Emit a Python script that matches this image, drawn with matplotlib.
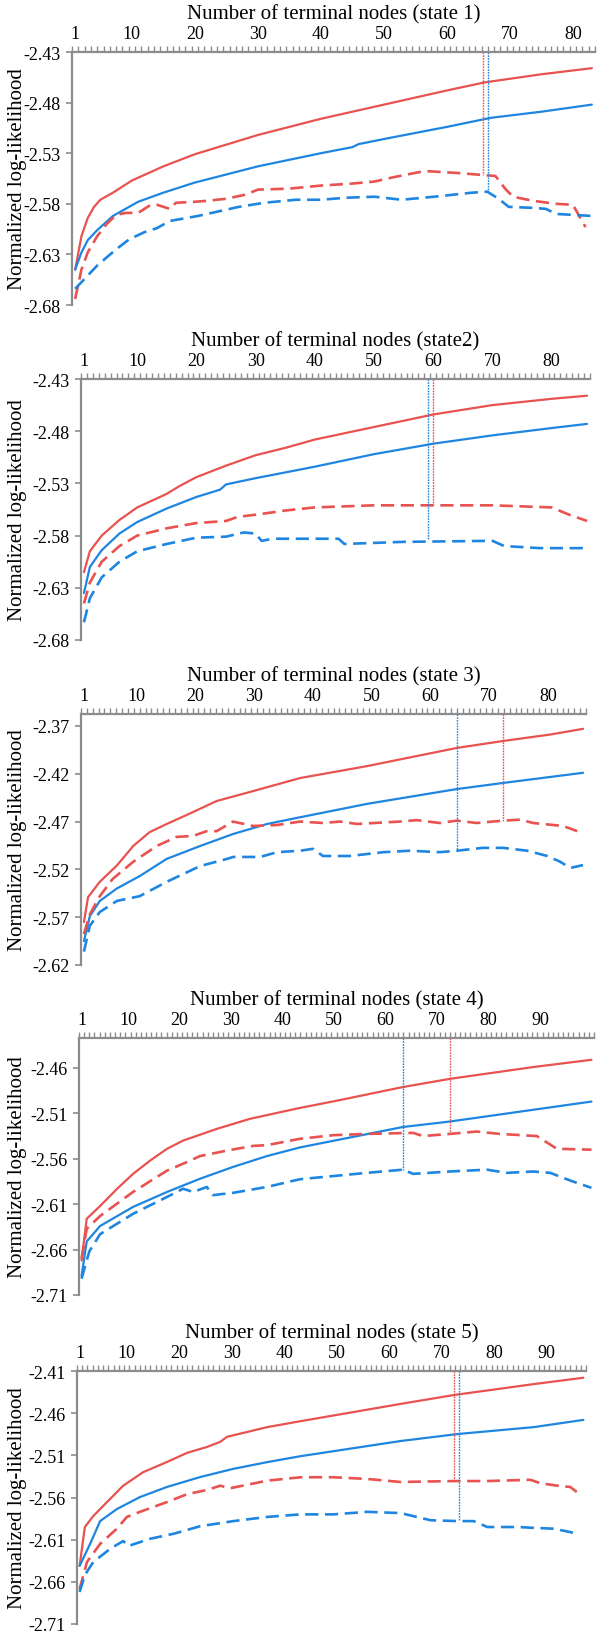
import matplotlib
matplotlib.use("Agg")
import matplotlib.pyplot as plt
from matplotlib.ticker import FixedLocator, FormatStrFormatter
import numpy as np

plt.rcParams['font.family'] = ['Liberation Serif', 'DejaVu Serif']
plt.rcParams['axes.unicode_minus'] = False

RED = '#E8524F'
BLUE = '#1E86E0'
GREY = '#8C8C8C'

# ---- state 1 ----
p1_n = 83
p1_red_x = [1, 2, 3, 4, 5, 7, 10, 15, 20, 30, 40, 50, 60, 66, 75, 83]
p1_red_y = [-2.645, -2.612, -2.594, -2.583, -2.576, -2.569, -2.557, -2.543, -2.531, -2.512,
            -2.496, -2.482, -2.468, -2.460, -2.452, -2.446]
p1_blue_x = [1, 2, 3, 4.5, 7, 11, 15, 20, 30, 40, 45, 46, 50, 60, 67, 75, 83]
p1_blue_y = [-2.645, -2.628, -2.616, -2.606, -2.592, -2.578, -2.569, -2.559, -2.543, -2.530,
             -2.524, -2.521, -2.516, -2.504, -2.495, -2.489, -2.482]
p1_red_d_x = [1, 2, 3, 4.5, 6, 7.5, 9, 11, 12, 13, 14, 15, 16, 17, 20, 22, 25, 28, 30, 35, 40,
              45, 48.5, 51.7, 56.5, 61.8, 65.6, 67.7, 69.3, 70.5, 73.6, 77.3, 80, 81, 82]
p1_red_d_y = [-2.674, -2.645, -2.628, -2.612, -2.600, -2.591, -2.589, -2.589, -2.585, -2.581,
              -2.581, -2.583, -2.585, -2.579, -2.578, -2.577, -2.575, -2.571, -2.566, -2.565,
              -2.562, -2.560, -2.558, -2.5535, -2.5476, -2.5496, -2.5515, -2.5525, -2.5655,
              -2.573, -2.577, -2.580, -2.581, -2.592, -2.603]
p1_blue_d_x = [1, 4.5, 7.5, 9.6, 12, 14, 16, 20.5, 27, 31, 36, 40, 44, 48.5, 52.8, 58, 64, 66.4,
               68.2, 69.8, 73.6, 75.7, 77.3, 83]
p1_blue_d_y = [-2.664, -2.641, -2.625, -2.615, -2.608, -2.604, -2.597, -2.592, -2.583, -2.579,
               -2.576, -2.576, -2.574, -2.573, -2.576, -2.573, -2.569, -2.568, -2.575, -2.583,
               -2.584, -2.585, -2.590, -2.592]
p1_vline_red = (65.8, -2.5515)
p1_vline_blue = (66.5, -2.568)

# ---- state 2 ----
p2_n = 86
p2_red_x = [1, 2, 4, 7, 10, 15, 17, 20, 25, 30, 35, 40, 50, 60, 70, 80, 86]
p2_red_y = [-2.615, -2.595, -2.580, -2.565, -2.553, -2.540, -2.533, -2.524, -2.513, -2.503,
            -2.496, -2.488, -2.476, -2.464, -2.455, -2.449, -2.446]
p2_blue_x = [1, 2, 4, 7, 10, 15, 20, 24, 25, 30, 40, 50, 60, 70, 80, 86]
p2_blue_y = [-2.635, -2.610, -2.594, -2.578, -2.567, -2.554, -2.543, -2.536, -2.531, -2.525,
             -2.514, -2.502, -2.492, -2.484, -2.477, -2.473]
p2_red_d_x = [1, 2, 4, 7, 10, 15, 20, 25, 27, 30, 35, 40, 50, 60, 70, 80, 83, 86]
p2_red_d_y = [-2.645, -2.625, -2.605, -2.590, -2.580, -2.573, -2.568, -2.566, -2.562, -2.560,
              -2.556, -2.553, -2.551, -2.551, -2.551, -2.553, -2.560, -2.566]
p2_blue_d_x = [1, 2, 4, 7, 10, 15, 20, 25, 28, 30, 31, 33, 40, 44, 45, 55, 70, 72, 78, 86]
p2_blue_d_y = [-2.663, -2.640, -2.620, -2.605, -2.595, -2.588, -2.582, -2.581, -2.577, -2.578,
               -2.585, -2.583, -2.583, -2.583, -2.588, -2.586, -2.585, -2.590, -2.592, -2.592]
p2_vline_red = (60.0, -2.551)
p2_vline_blue = (59.1, -2.583)

# ---- state 3 ----
p3_n = 86
p3_red_x = [1, 1.7, 3.7, 6.6, 9.4, 12.2, 15.1, 19.6, 23.6, 29.3, 37.8, 49.2, 64.5, 72.4, 80.4, 86]
p3_red_y = [-2.575, -2.549, -2.533, -2.516, -2.4955, -2.481, -2.4725, -2.460, -2.4485, -2.439,
            -2.4245, -2.412, -2.393, -2.3857, -2.379, -2.373]
p3_blue_x = [1, 2, 3.7, 6.6, 10.5, 15.1, 20.8, 26.4, 32.2, 37.8, 49.2, 64.5, 72.4, 86]
p3_blue_y = [-2.595, -2.569, -2.553, -2.540, -2.527, -2.509, -2.4955, -2.483, -2.4725, -2.4655,
             -2.4515, -2.436, -2.4296, -2.419]
p3_red_d_x = [1, 2, 3.7, 5.9, 9.4, 13.4, 16.8, 19.6, 21.9, 23.6, 26.4, 29.8, 33.9, 37.8, 41.7,
              44.6, 47.5, 54.8, 57.7, 61.6, 64.5, 67.9, 72.4, 75.3, 77.5, 82.6, 85]
p3_red_d_y = [-2.5876, -2.567, -2.548, -2.530, -2.512, -2.4955, -2.486, -2.485, -2.480, -2.480,
              -2.470, -2.4746, -2.4736, -2.470, -2.4715, -2.470, -2.4725, -2.470, -2.4685,
              -2.4715, -2.469, -2.4715, -2.469, -2.468, -2.4715, -2.4746, -2.480]
p3_blue_d_x = [1, 2, 3.7, 6.6, 10.5, 15.1, 20.8, 25.4, 26.4, 31, 33.9, 37.8, 40, 41.7, 46.3,
               52, 56.5, 61.6, 64.5, 68.9, 72.4, 76.5, 79.9, 82.1, 83.8, 86]
p3_blue_d_y = [-2.606, -2.579, -2.5646, -2.553, -2.548, -2.533, -2.5165, -2.509, -2.507, -2.507,
               -2.502, -2.5005, -2.4985, -2.506, -2.506, -2.502, -2.5005, -2.502, -2.5005,
               -2.4975, -2.4975, -2.5005, -2.506, -2.512, -2.5185, -2.5155]
p3_vline_red = (72.4, -2.469)
p3_vline_blue = (64.5, -2.5005)

# ---- state 4 ----
p4_n = 100
p4_red_x = [1, 2, 4.6, 7.9, 11, 14.3, 17.6, 20.7, 27.3, 33.7, 43.4, 50.6, 63.4, 72.5, 88.7, 100]
p4_red_y = [-2.672, -2.626, -2.612, -2.593, -2.5766, -2.562, -2.549, -2.540, -2.527, -2.516,
            -2.504, -2.496, -2.481, -2.472, -2.459, -2.451]
p4_blue_x = [1, 2, 4.6, 11, 17.6, 24, 30.4, 37, 43.4, 63.4, 72.5, 100]
p4_blue_y = [-2.689, -2.651, -2.634, -2.613, -2.5965, -2.582, -2.569, -2.557, -2.5475, -2.525,
             -2.519, -2.497]
p4_red_d_x = [1, 2, 4.6, 11, 17.6, 21.5, 24, 29.2, 34.3, 37, 43.4, 49.9, 56.4, 65.4, 67.3, 72.5,
              77.7, 82.2, 89.4, 93.3, 100]
p4_red_d_y = [-2.670, -2.637, -2.623, -2.5965, -2.573, -2.5635, -2.557, -2.551, -2.5458, -2.545,
              -2.538, -2.534, -2.5326, -2.5315, -2.535, -2.5326, -2.530, -2.5326, -2.535,
              -2.549, -2.550]
p4_blue_d_x = [1, 2.5, 4.6, 11, 17.6, 20.7, 22.7, 25.3, 26.5, 30.4, 37, 43.4, 49.9, 56.4, 63.4,
               65.4, 72.5, 79.7, 83.6, 88.7, 92, 95.9, 100]
p4_blue_d_y = [-2.692, -2.662, -2.643, -2.6206, -2.602, -2.593, -2.5966, -2.591, -2.600,
               -2.5975, -2.591, -2.5825, -2.579, -2.5755, -2.572, -2.5766, -2.574, -2.572,
               -2.5755, -2.574, -2.5755, -2.584, -2.592]
p4_vline_red = (72.5, -2.5326)
p4_vline_blue = (63.4, -2.572)

# ---- state 5 ----
p5_n = 97
p5_red_x = [1, 2, 3.6, 6.2, 9.3, 13.1, 17.6, 21.5, 25.3, 27.8, 29.1, 36.8, 43.1, 62.2, 72.3,
            87.6, 97]
p5_red_y = [-2.641, -2.595, -2.582, -2.5655, -2.546, -2.530, -2.518, -2.507, -2.500, -2.494,
            -2.488, -2.4765, -2.4695, -2.449, -2.4385, -2.4255, -2.418]
p5_blue_x = [1, 3, 4.9, 8.1, 12.5, 17.6, 24, 30.3, 36.8, 43.1, 62.2, 73.1, 87.6, 97]
p5_blue_y = [-2.641, -2.615, -2.588, -2.5737, -2.5595, -2.5476, -2.5357, -2.526, -2.518, -2.511,
             -2.493, -2.4847, -2.4765, -2.468]
p5_red_d_x = [1, 2.4, 4.9, 8.1, 10, 12.5, 17.6, 21.5, 25.3, 27.8, 29.7, 36.8, 43.1, 49.4, 55.8,
              62.2, 72.3, 78.7, 86.9, 88.8, 92.6, 94.5, 96]
p5_red_d_y = [-2.6685, -2.6365, -2.615, -2.597, -2.583, -2.577, -2.5655, -2.556, -2.551, -2.546,
              -2.549, -2.540, -2.536, -2.536, -2.538, -2.5416, -2.5405, -2.5405, -2.539, -2.543,
              -2.5465, -2.5475, -2.5547]
p5_blue_d_x = [1, 2, 3.6, 6.8, 9.3, 10.3, 14.4, 18.9, 24, 30.3, 36.8, 43.1, 49.4, 55.8, 62.2,
               67.9, 73.1, 76.1, 78.7, 84.5, 87.6, 91.4, 96]
p5_blue_d_y = [-2.672, -2.652, -2.6365, -2.621, -2.6116, -2.6175, -2.609, -2.603, -2.594, -2.588,
               -2.583, -2.580, -2.580, -2.577, -2.5785, -2.587, -2.588, -2.588, -2.595, -2.595,
               -2.596, -2.597, -2.603]
p5_vline_red = (72.3, -2.5405)
p5_vline_blue = (73.3, -2.588)

titles = ['Number of terminal nodes (state 1)', 'Number of terminal nodes (state2)',
          'Number of terminal nodes (state 3)', 'Number of terminal nodes (state 4)',
          'Number of terminal nodes (state 5)']
ylims = [(-2.68, -2.43), (-2.68, -2.43), (-2.62, -2.3575), (-2.71, -2.427), (-2.71, -2.41)]
yticks = [np.arange(-2.68, -2.42, 0.05), np.arange(-2.68, -2.42, 0.05),
          np.arange(-2.62, -2.36, 0.05), np.arange(-2.71, -2.45, 0.05),
          np.arange(-2.71, -2.40, 0.05)]
# axes boxes in pixels: left, right, top, bottom
boxes = [(72, 595, 53, 306), (81, 590, 380, 641), (81, 586, 715, 966),
         (79, 594, 1039, 1296), (77, 586, 1372, 1625)]

panels = [
    (p1_n, p1_red_x, p1_red_y, p1_blue_x, p1_blue_y, p1_red_d_x, p1_red_d_y,
     p1_blue_d_x, p1_blue_d_y, p1_vline_red, p1_vline_blue),
    (p2_n, p2_red_x, p2_red_y, p2_blue_x, p2_blue_y, p2_red_d_x, p2_red_d_y,
     p2_blue_d_x, p2_blue_d_y, p2_vline_red, p2_vline_blue),
    (p3_n, p3_red_x, p3_red_y, p3_blue_x, p3_blue_y, p3_red_d_x, p3_red_d_y,
     p3_blue_d_x, p3_blue_d_y, p3_vline_red, p3_vline_blue),
    (p4_n, p4_red_x, p4_red_y, p4_blue_x, p4_blue_y, p4_red_d_x, p4_red_d_y,
     p4_blue_d_x, p4_blue_d_y, p4_vline_red, p4_vline_blue),
    (p5_n, p5_red_x, p5_red_y, p5_blue_x, p5_blue_y, p5_red_d_x, p5_red_d_y,
     p5_blue_d_x, p5_blue_d_y, p5_vline_red, p5_vline_blue),
]

W, H = 600, 1633
fig = plt.figure(figsize=(W / 100, H / 100), dpi=100)

for i, (n, rx, ry, bx, by, rdx, rdy, bdx, bdy, vr, vb) in enumerate(panels):
    l, r, t, b = boxes[i]
    ax = fig.add_axes([l / W, 1 - b / H, (r - l) / W, (b - t) / H])

    dash = (0, (5, 2.5))
    ax.plot(rx, ry, color=RED, lw=1.6, solid_capstyle='round')
    ax.plot(bx, by, color=BLUE, lw=1.6, solid_capstyle='round')
    ax.plot(rdx, rdy, color=RED, lw=1.9, linestyle=dash)
    ax.plot(bdx, bdy, color=BLUE, lw=1.9, linestyle=dash)

    top = ylims[i][1]
    ax.plot([vr[0], vr[0]], [top, vr[1]], color=RED, lw=1.0, linestyle=(0, (1.2, 0.8)))
    ax.plot([vb[0], vb[0]], [top, vb[1]], color=BLUE, lw=1.0, linestyle=(0, (1.2, 0.8)))

    ax.set_xlim(0.5, n + 0.5)
    ax.set_ylim(*ylims[i])

    # category axis on top: labels at 1,10,20,..., tick marks between categories
    ax.xaxis.tick_top()
    ax.xaxis.set_major_locator(FixedLocator([1] + list(range(10, n, 10))))
    ax.xaxis.set_minor_locator(FixedLocator(np.arange(0.5, n + 1, 1.0)))
    ax.tick_params(axis='x', which='major', length=0, pad=7, labelsize=13)
    ax.tick_params(axis='x', which='minor', length=4.5, width=1, color=GREY, direction='out')

    ax.set_yticks(yticks[i])
    ax.yaxis.set_major_formatter(FormatStrFormatter('%.2f'))
    ax.tick_params(axis='y', length=4, width=1.2, color=GREY, labelsize=13, pad=4)

    for s in ['bottom', 'right']:
        ax.spines[s].set_visible(False)
    for s in ['top', 'left']:
        ax.spines[s].set_color(GREY)
        ax.spines[s].set_linewidth(1.6)

    ax.set_title(titles[i], fontsize=15, pad=24)
    ax.set_ylabel('Normalized log-likelihood', fontsize=15)
    ax.yaxis.set_label_coords((27 - l) / (r - l), 0.5)

fig.savefig('out.png', dpi=100)
